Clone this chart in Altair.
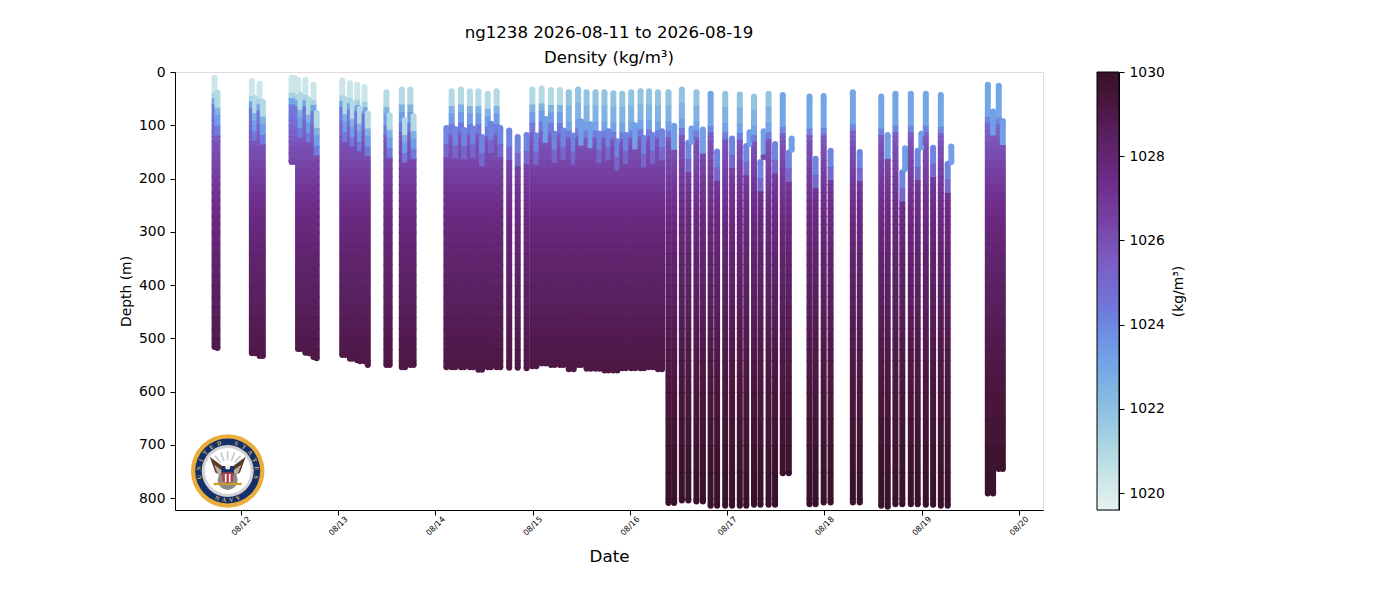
import math
import altair as alt
import pandas as pd

# --- profile values ---
hours_from_aug12 = [
    -6.5, -5.8, 2.7, 3.5, 4.6, 5.4, 12.5, 13.2, 14.1, 14.7, 15.9, 16.8, 17.9, 18.7,
    25.0, 25.8, 26.9, 27.6, 28.7, 29.4, 30.5, 31.3, 35.9, 36.7, 39.7, 40.5, 41.8, 42.6,
    50.7, 52.0, 52.9, 54.3, 55.1, 56.5, 57.3, 58.6, 59.5, 60.9, 61.7, 63.1, 64.0, 66.2,
    68.3, 70.5, 71.9, 72.9, 74.2, 75.2, 76.5, 77.4, 78.7, 79.6, 80.9, 82.1, 83.2, 84.0,
    85.3, 86.3, 87.5, 88.5, 89.7, 90.7, 91.9, 92.9, 94.1, 95.0, 96.3, 97.3, 98.6, 99.5,
    100.7, 101.7, 102.9, 103.9, 105.5, 106.9, 108.8, 110.4, 111.2, 112.4, 114.0, 115.9, 117.5, 119.5,
    121.2, 123.1, 124.7, 125.5, 126.6, 128.2, 129.0, 130.2, 131.8, 133.7, 135.2, 135.9, 140.3, 141.8,
    143.8, 145.5, 151.0, 152.7, 158.0, 159.6, 161.5, 163.2, 163.9, 165.3, 167.0, 167.9, 169.0, 170.8,
    172.7, 174.4, 175.3, 184.3, 185.6, 187.0, 188.0,
]
top_depth = [
    11, 39, 17, 49, 22, 56, 11, 11, 15, 43, 15, 52, 24, 77,
    16, 51, 21, 60, 24, 69, 28, 78, 38, 81, 33, 90, 33, 83,
    105, 36, 107, 33, 109, 36, 106, 36, 122, 41, 97, 36, 105, 110,
    122, 118, 33, 119, 31, 88, 34, 116, 34, 110, 38, 119, 33, 93,
    38, 98, 38, 116, 38, 111, 40, 130, 41, 118, 38, 100, 36, 124,
    36, 118, 38, 111, 38, 101, 33, 133, 106, 38, 108, 41, 149, 41,
    125, 42, 139, 113, 46, 169, 111, 41, 135, 43, 151, 125, 46, 163,
    45, 148, 38, 150, 46, 118, 41, 188, 143, 41, 148, 116, 41, 142,
    43, 172, 140, 24, 74, 26, 92,
]
bottom_depth = [
    516, 518, 528, 528, 533, 533, 169, 169, 520, 520, 527, 528, 535, 537,
    531, 531, 538, 538, 541, 543, 543, 550, 550, 550, 554, 554, 550, 550,
    554, 554, 554, 554, 554, 554, 554, 559, 559, 554, 554, 554, 554, 555,
    555, 556, 552, 552, 547, 547, 550, 550, 550, 550, 558, 558, 550, 550,
    557, 557, 557, 557, 560, 560, 560, 560, 556, 556, 556, 556, 556, 556,
    554, 554, 558, 558, 809, 809, 804, 804, 131, 806, 806, 814, 814, 814,
    814, 814, 814, 135, 812, 812, 160, 812, 812, 753, 753, 146, 811, 811,
    808, 808, 808, 808, 814, 816, 811, 811, 182, 811, 811, 141, 812, 812,
    814, 814, 169, 791, 791, 745, 745,
]
profile_kind = list(
    "ag" "agag" "aaagagag" "agagagag" "gggggg"
    "cgcgcgcgcgcgcc"
    "cc" "gc" "gs" "gc" "gc"
    "mcms" "msmc" "mcmc" "mcms" "mcmc"
    "mcms" "mcs" "ms" "nc" "mc" "mcs" "mcs" "mc"
    "ncs" "ncnc" "ncns" "ncs" "ncs" "nc" "ncs" "nsns"
)

# depth (m) -> density (kg/m3) below the surface layers of each kind
base_depth = [0, 90, 100, 110, 120, 130, 140, 150, 165, 180, 195, 210, 225, 240, 255, 270, 285, 300, 320, 340,
              360, 380, 400, 420, 440, 460, 480, 500, 520, 540, 570, 600, 650, 700, 750, 800]
base_density = [1024.6, 1024.8, 1025.1, 1025.3, 1025.6, 1025.8, 1026.0, 1026.1, 1026.3, 1026.5, 1026.7,
                1026.9, 1027.1, 1027.3, 1027.45, 1027.6, 1027.7, 1027.8, 1027.95, 1028.1,
                1028.2, 1028.3, 1028.4, 1028.5, 1028.6, 1028.7, 1028.8, 1028.9, 1029, 1029.1,
                1029.2, 1029.3, 1029.5, 1029.7, 1029.8, 1029.9]

# surface layers: metres below the profile's top, and density there
layer_ends = {
    "a": [28, 38, 50, 75],
    "g": [28, 42, 62, 80],
    "m": [25, 55, 72, 85],
    "n": [60, 72],
    "c": [30, 55],
    "s": [45],
}
layer_density = {
    "a": [1020.3, 1021.2, 1023, 1024.4],
    "g": [1020.9, 1022.5, 1023.3, 1024.3],
    "m": [1021.8, 1022.5, 1023.1, 1024.2],
    "n": [1023, 1024],
    "c": [1024, 1025],
    "s": [1023.2],
}

color_domain = [1019.6, 1020.5, 1021.5, 1022.5, 1023.5, 1024.5, 1025.5, 1026.5, 1027.5, 1028.5, 1029.5, 1030]
color_range = ["#e6f1f1", "#c4e1e6", "#9ccbe2", "#80b2e2", "#7096e6", "#7272d8", "#7b5cc2", "#763fa2",
               "#6c2a84", "#58205f", "#431534", "#36102a"]
colorbar_levels = [round(1019.6 + i * 0.1, 1) for i in range(104)]

title_lines = ["ng1238 2026-08-11 to 2026-08-19", "Density (kg/m³)"]
FONT = "DejaVu Sans"

n = min(len(hours_from_aug12), len(top_depth), len(bottom_depth), len(profile_kind))
start = pd.Timestamp("2026-08-12T00:00:00Z")
rows, caps = [], []
for i in range(n):
    t = (start + pd.Timedelta(hours=hours_from_aug12[i])).strftime("%Y-%m-%dT%H:%M:%SZ")
    top, bot, kind = top_depth[i], bottom_depth[i], profile_kind[i]
    d = top
    seg = []
    for end, rho in zip(layer_ends[kind], layer_density[kind]):
        e = min(top + end, bot)
        if e > d:
            seg.append(dict(t=t, d0=d, d1=e, density=rho))
            d = e
    for j, b in enumerate(base_depth):
        nxt = base_depth[j + 1] if j + 1 < len(base_depth) else 99999
        e = min(nxt, bot)
        if e > d and nxt > d:
            seg.append(dict(t=t, d0=d, d1=e, density=base_density[j]))
            d = e
    caps.append(dict(t=t, d=seg[0]["d0"], density=seg[0]["density"]))
    caps.append(dict(t=t, d=seg[-1]["d1"], density=seg[-1]["density"]))
    for k, s in enumerate(seg):
        # a sliver of overlap so no seam shows between neighbouring segments
        rows.append(dict(t=s["t"], d0=s["d0"], d1=s["d1"] + (2 if k < len(seg) - 1 else 0), density=s["density"]))
df = pd.DataFrame(rows)
caps_df = pd.DataFrame(caps)

color_scale = alt.Scale(domain=color_domain, range=color_range)
xscale = alt.Scale(
    type="utc",
    domain=[
        alt.DateTime(year=2026, month=8, date=11, hours=7, minutes=44, utc=True),
        alt.DateTime(year=2026, month=8, date=20, hours=5, minutes=55, utc=True),
    ],
)
xticks = [alt.DateTime(year=2026, month=8, date=d, utc=True) for d in range(12, 21)]
yscale = alt.Scale(domain=[0, 822], reverse=True, nice=False)

W, H = 868, 438

profiles = alt.Chart(df).mark_rule(strokeWidth=6, strokeCap="butt").encode(
    x=alt.X(
        "t:T",
        scale=xscale,
        title="Date",
        axis=alt.Axis(
            values=xticks, labelExpr="utcFormat(datum.value, '%m/%d')", labelAngle=315, labelAlign="center",
            labelBaseline="middle", labelFontSize=8, labelPadding=11, tickSize=5, titleFontSize=16.7,
            titleFontWeight="normal", titlePadding=12, grid=False, labelColor="#000", titleColor="#000",
            tickColor="#000", domainColor="#000", labelFont=FONT, titleFont=FONT, labelOverlap=False,
        ),
    ),
    y=alt.Y(
        "d0:Q",
        scale=yscale,
        title="Depth (m)",
        axis=alt.Axis(
            values=list(range(0, 900, 100)), labelFontSize=13.9, tickSize=5, labelPadding=5,
            titleFontSize=13.9, titleFontWeight="normal", titlePadding=5, grid=False, labelColor="#000",
            titleColor="#000", tickColor="#000", domainColor="#000", labelFont=FONT, titleFont=FONT,
        ),
    ),
    y2="d1:Q",
    color=alt.Color("density:Q", scale=color_scale, legend=None),
)
profile_caps = alt.Chart(caps_df).mark_circle(size=36, opacity=1).encode(
    x=alt.X("t:T", scale=xscale),
    y=alt.Y("d:Q", scale=yscale),
    color=alt.Color("density:Q", scale=color_scale, legend=None),
)

# --- emblem, in plot-area pixels ---
CX, CY = 52.7, 399.0
WING_L = "M-1,-0.75 L-0.12,-0.1 L-0.18,0.55 L-0.62,0.3 Z"
WING_R = "M1,-0.75 L0.12,-0.1 L0.18,0.55 L0.62,0.3 Z"
SHIELD = "M-1,-1 H1 V0.5 L0,1 L-1,0.5 Z"
BAR = "M-1,-0.08 H1 V0.08 H-1 Z"
STRIPE = "M-0.2,-1 H0.2 V1 H-0.2 Z"
logo = [
    dict(x=0, y=0, s=73.5**2, c="#eaad3c", p="circle"),
    dict(x=0, y=0, s=65**2, c="#14306a", p="circle"),
    dict(x=0, y=0, s=52**2, c="#d2d2d2", p="circle"),
    dict(x=0, y=0, s=46**2, c="#ffffff", p="circle"),
    dict(x=-3, y=-3, s=30**2, c="#5c3a28", p=WING_L),
    dict(x=3, y=-3, s=30**2, c="#5c3a28", p=WING_R),
    dict(x=-5, y=0, s=17**2, c="#b8b0a8", p=WING_L),
    dict(x=5, y=0, s=17**2, c="#b8b0a8", p=WING_R),
    dict(x=0, y=9, s=20**2, c="#8a8a8a", p="circle"),
    dict(x=0, y=1, s=12**2, c="#14306a", p=SHIELD),
    dict(x=0, y=7, s=11**2, c="#b5404a", p=SHIELD),
    dict(x=-2, y=7, s=8**2, c="#ffffff", p=STRIPE),
    dict(x=2, y=7, s=8**2, c="#ffffff", p=STRIPE),
    dict(x=0, y=-4, s=5**2, c="#f4f0e8", p="circle"),
    dict(x=0, y=13, s=28**2, c="#c99a2e", p=BAR),
]
logo_df = pd.DataFrame(logo)
logo_df["x"] += CX
logo_df["y"] += CY
emblem = alt.Chart(logo_df).mark_point(filled=True, opacity=1, strokeWidth=0).encode(
    x=alt.X("x:Q", scale=None),
    y=alt.Y("y:Q", scale=None),
    fill=alt.Fill("c:N", scale=None),
    size=alt.Size("s:Q", scale=None),
    shape=alt.Shape("p:N", scale=None),
    order=alt.Order("o:Q"),
).transform_window(o="row_number()")

rays = pd.DataFrame([
    dict(x=CX + 20 * math.sin(math.radians(a)), y=CY - 20 * math.cos(math.radians(a)),
         x2=CX + 11 * math.sin(math.radians(a)), y2=CY - 11 * math.cos(math.radians(a)))
    for a in (-40, -20, 0, 20, 40)
])
ray_marks = alt.Chart(rays).mark_rule(color="#c4c4c4", strokeWidth=1.5).encode(
    x=alt.X("x:Q", scale=None), y=alt.Y("y:Q", scale=None), x2="x2:Q", y2="y2:Q"
)

letters = []
top_text = "UNITED STATES"
for i, ch in enumerate(top_text):
    a = -102 + i * 17
    letters.append(dict(ch=ch, x=CX + 29 * math.sin(math.radians(a)),
                        y=CY - 29 * math.cos(math.radians(a)), a=a % 360))
for ch, a in zip("NAVY", (21, 7, -7, -21)):
    letters.append(dict(ch=ch, x=CX - 29 * math.sin(math.radians(a)),
                        y=CY + 29 * math.cos(math.radians(a)), a=a % 360))
letter_marks = alt.Chart(pd.DataFrame(letters)).mark_text(
    font="Liberation Serif", fontSize=6, fontWeight="bold", color="#d8b45c", baseline="middle"
).encode(
    x=alt.X("x:Q", scale=None), y=alt.Y("y:Q", scale=None), text="ch:N",
    angle=alt.Angle("a:Q", scale=None),
)

main = alt.layer(profiles, profile_caps, emblem, ray_marks, letter_marks).resolve_scale(
    color="independent"
).properties(
    width=W, height=H,
    title=alt.TitleParams(text=title_lines, fontSize=16.6, fontWeight="normal", font=FONT,
                          color="#000", anchor="middle", offset=-2, lineHeight=25),
)

cb_df = pd.DataFrame({"lo": colorbar_levels, "hi": [round(v + 0.2, 1) for v in colorbar_levels]})
cb_scale = alt.Scale(domain=[1019.6, 1030], nice=False)
cb_rects = alt.Chart(cb_df).mark_rect(clip=True).encode(
    y=alt.Y(
        "lo:Q",
        scale=cb_scale,
        title="(kg/m³)",
        axis=alt.Axis(
            orient="right", values=list(range(1020, 1031, 2)), format="d", labelFontSize=13.9, tickSize=5,
            labelPadding=5, titleFontSize=13.9, titleFontWeight="normal", titlePadding=21, titleAngle=270,
            grid=False, labelColor="#000", titleColor="#000", tickColor="#000", domainColor="#000",
            labelFont=FONT, titleFont=FONT,
        ),
    ),
    y2="hi:Q",
    color=alt.Color("lo:Q", scale=color_scale, legend=None),
)
cb_frame = alt.Chart(cb_df.head(1)).mark_rect(fillOpacity=0, stroke="#000", strokeWidth=1).encode(
    x=alt.value(0), x2=alt.value(22), y=alt.value(0), y2=alt.value(438)
)
colorbar = alt.layer(cb_rects, cb_frame).properties(width=22, height=H)

chart = alt.hconcat(main, colorbar, spacing=52).properties(
    padding={"left": 110, "top": 16, "right": 5, "bottom": 5},
).configure_view(stroke="#000", strokeWidth=1).configure(font=FONT)

chart.save("out.html", embed_options={"renderer": "svg", "actions": False})
